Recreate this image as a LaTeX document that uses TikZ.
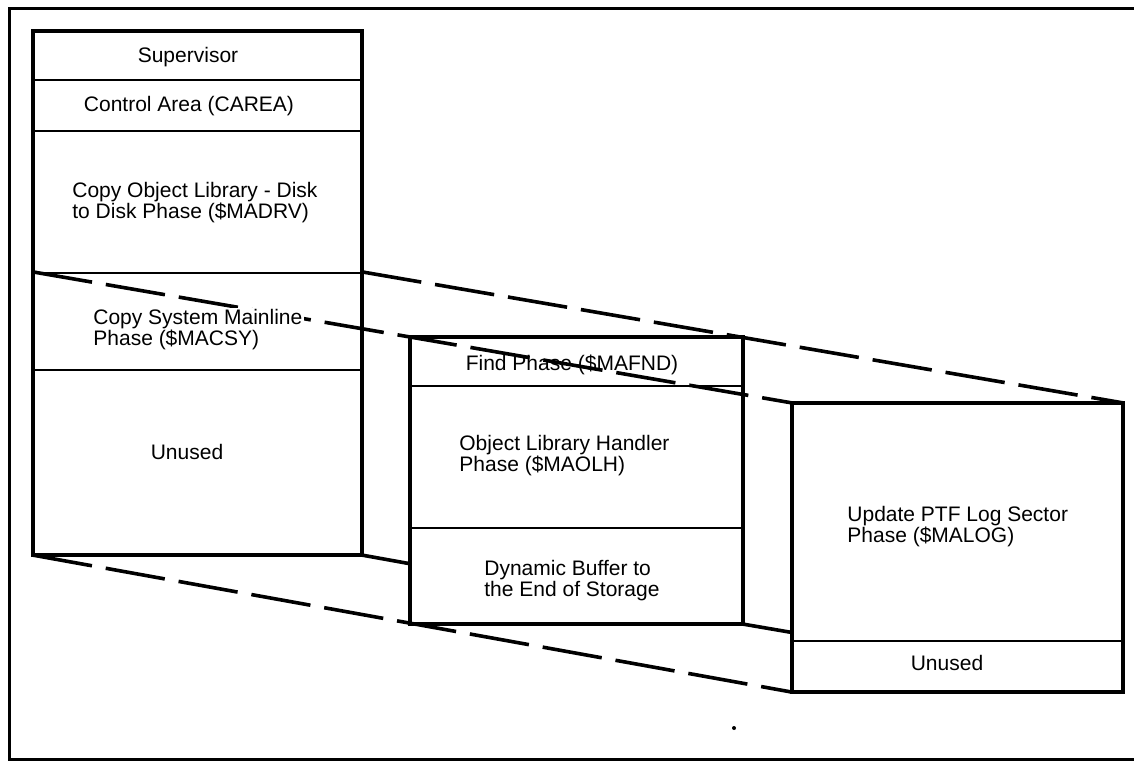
\documentclass[tikz,border=0pt]{standalone}
\usepackage{fontspec}
\setmainfont{Liberation Sans}
\begin{document}
\begin{tikzpicture}[x=0.5pt,y=-0.5pt,
  cell/.style={draw, line width=1.1pt, inner sep=0pt},
  txt/.style={font=\fontsize{10.5}{10.5}\selectfont, align=left, inner sep=0pt},
  outline/.style={line width=1.7pt},
  proj/.style={line width=1.8pt, dash pattern=on 30pt off 7pt},
  projsolid/.style={line width=1.8pt},
  frame/.style={line width=1.5pt}]
\useasboundingbox (0,0) rectangle (1134,761);
% left stack
\node[cell, minimum width=163.5pt, minimum height=24pt]   (LSup) at (197.5,56) {};
\node[cell, minimum width=163.5pt, minimum height=25.5pt] (LCa)  at (197.5,105.5) {};
\node[cell, minimum width=163.5pt, minimum height=71pt]   (LCo)  at (197.5,202) {};
\node[cell, minimum width=163.5pt, minimum height=48.5pt] (LSy)  at (197.5,321.5) {};
\node[cell, minimum width=163.5pt, minimum height=92pt]   (LUn)  at (197.5,462) {};
% middle stack
\node[cell, minimum width=165.5pt, minimum height=24pt]   (MFi)  at (576.5,362) {};
\node[cell, minimum width=165.5pt, minimum height=71pt]   (MOl)  at (576.5,457) {};
\node[cell, minimum width=165.5pt, minimum height=47.5pt] (MDy)  at (576.5,575.5) {};
% right stack
\node[cell, minimum width=164.5pt, minimum height=118.5pt] (RUp) at (957.5,522.5) {};
\node[cell, minimum width=164.5pt, minimum height=25pt]    (RUn) at (957.5,666) {};
% outlines
\draw[outline] (LSup.north west) rectangle (LUn.south east);
\draw[outline] (MFi.north west) rectangle (MDy.south east);
\draw[outline] (RUp.north west) rectangle (RUn.south east);
% projection lines
\draw[proj] (LSy.north west) -- (RUp.north west);
\draw[proj] (LSy.north east) -- (RUp.north east);
\draw[proj] (LUn.south west) -- (RUn.south west);
\coordinate (d1) at (intersection of LUn.south east--RUn.south east and MFi.north west--MDy.south west);
\coordinate (d2) at (intersection of LUn.south east--RUn.south east and RUp.north west--RUn.south west);
\draw[projsolid] (LUn.south east) -- (d1);
\draw[projsolid] (MDy.south east) -- (d2);
% frame
\draw[frame] (1134,8) -- (9,8) -- (9,759) -- (1134,759);
\fill (734,728) circle (1pt);
% texts
\node[txt] (tSup) at (188,57) {Supervisor};
\node[txt] (tCa) at (189,106) {Control Area (CAREA)};
\node[txt, anchor=west] (tCo) at (72,203) {Copy Object Library - Disk\\to Disk Phase (\$MADRV)};
\node[txt, anchor=west, fill=white, inner sep=1pt] (tSy) at (91,330) {Copy System Mainline\\Phase (\$MACSY)};
\node[txt] (tUn) at (187,452) {Unused};
\node[txt] (tFi) at (572,365) {Find Phase (\$MAFND)};
\node[txt, anchor=west] (tOl) at (459,456) {Object Library Handler\\Phase (\$MAOLH)};
\node[txt, anchor=west] (tDy) at (484,581) {Dynamic Buffer to\\the End of Storage};
\node[txt, anchor=west] (tUp) at (847,527) {Update PTF Log Sector\\Phase (\$MALOG)};
\node[txt] (tRu) at (947,663) {Unused};
\end{tikzpicture}
\end{document}
